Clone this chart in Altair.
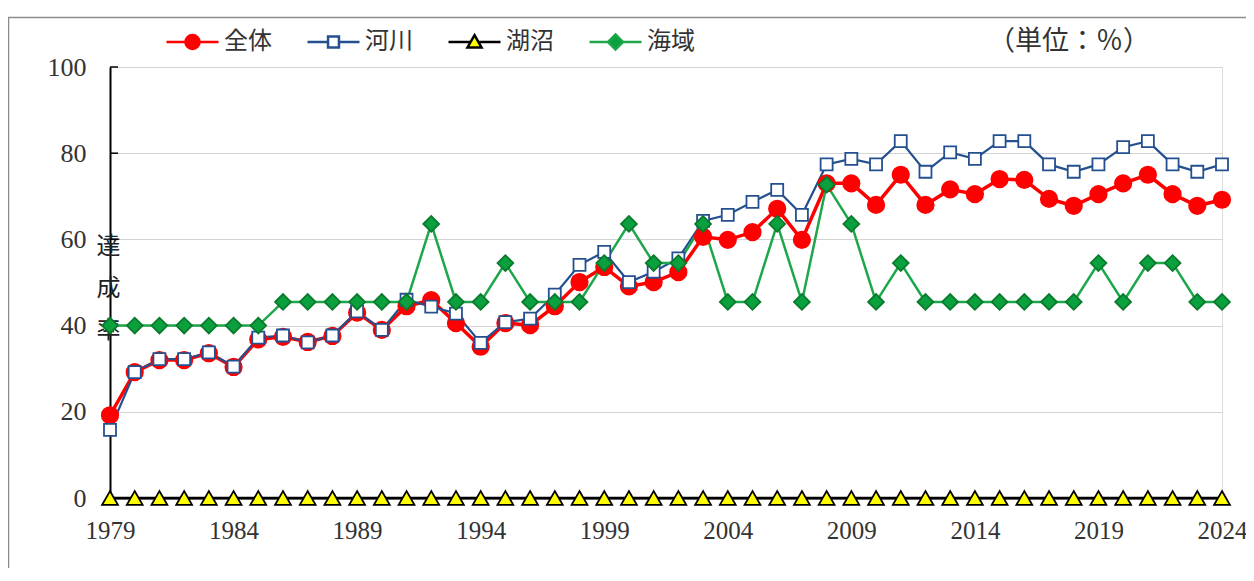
import json
import altair as alt
import pandas as pd

years = [1979, 1980, 1981, 1982, 1983, 1984, 1985, 1986, 1987, 1988,
         1989, 1990, 1991, 1992, 1993, 1994, 1995, 1996, 1997, 1998,
         1999, 2000, 2001, 2002, 2003, 2004, 2005, 2006, 2007, 2008,
         2009, 2010, 2011, 2012, 2013, 2014, 2015, 2016, 2017, 2018,
         2019, 2020, 2021, 2022, 2023, 2024]

series_names = ["全体", "河川", "湖沼", "海域"]

zentai = [19.2, 29.2, 32.0, 32.0, 33.6, 30.4, 36.8, 37.4, 36.2, 37.6,
          43.0, 39.0, 44.5, 45.9, 40.6, 35.1, 40.6, 40.1, 44.5, 50.1,
          53.6, 49.1, 50.1, 52.4, 60.6, 59.9, 61.7, 67.1, 59.9, 73.0,
          73.0, 68.0, 75.0, 68.0, 71.6, 70.5, 74.0, 73.8, 69.4, 67.8,
          70.5, 73.0, 75.0, 70.5, 67.8, 69.2]

kasen = [15.8, 29.2, 32.2, 32.2, 33.8, 30.5, 37.2, 37.7, 36.1, 37.7,
         43.3, 39.0, 46.0, 44.4, 42.8, 36.0, 40.8, 41.6, 47.2, 54.1,
         57.1, 50.1, 52.5, 55.6, 64.3, 65.7, 68.7, 71.5, 65.7, 77.4,
         78.7, 77.4, 82.8, 75.7, 80.2, 78.7, 82.8, 82.8, 77.4, 75.7,
         77.4, 81.4, 82.8, 77.4, 75.7, 77.4]

kosho = [0, 0, 0, 0, 0, 0, 0, 0, 0, 0,
         0, 0, 0, 0, 0, 0, 0, 0, 0, 0,
         0, 0, 0, 0, 0, 0, 0, 0, 0, 0,
         0, 0, 0, 0, 0, 0, 0, 0, 0, 0,
         0, 0, 0, 0, 0, 0]

kaiiki = [40.0, 40.0, 40.0, 40.0, 40.0, 40.0, 40.0, 45.5, 45.5, 45.5,
          45.5, 45.5, 45.5, 63.6, 45.5, 45.5, 54.5, 45.5, 45.5, 45.5,
          54.5, 63.6, 54.5, 54.5, 63.6, 45.5, 45.5, 63.6, 45.5, 72.7,
          63.6, 45.5, 54.5, 45.5, 45.5, 45.5, 45.5, 45.5, 45.5, 45.5,
          54.5, 45.5, 54.5, 54.5, 45.5, 45.5]

y_ticks = [0, 20, 40, 60, 80, 100]
x_ticks = [1979, 1984, 1989, 1994, 1999, 2004, 2009, 2014, 2019, 2024]
unit_text = "（単位：％）"
y_title = ["達", "成", "率"]

line_colors = ["#ff0000", "#24508f", "#000000", "#1ea64b"]
line_widths = [3.5, 2.2, 2.5, 2.5]
marker_fill = ["#ff0000", "#ffffff", "#ffff00", "#0aa03e"]
marker_stroke = ["#ff0000", "#24508f", "#000000", "#0b7a2c"]
marker_shape = ["circle", "square", "triangle-up", "diamond"]
marker_size = [270, 144, 250, 250]

# legend symbols: a short line with the marker in the middle (unit box [-1,1])
legend_stroke = ["#ff0000", "#24508f", "#000000", "#1ea64b"]
legend_fill = ["#ff0000", "#ffffff", "#ffff00", "#0aa03e"]
legend_paths = [
    "M-1,0H-0.26M0.26,0H1M0.27,0A0.27,0.27,0,1,1,-0.27,0A0.27,0.27,0,1,1,0.27,0Z",
    "M-1,0H-0.21M0.21,0H1M-0.21,-0.21H0.21V0.21H-0.21Z",
    "M-1,0H-0.16M0.16,0H1M0,-0.26L0.27,0.21L-0.27,0.21Z",
    "M-1,0H-0.29M0.29,0H1M0,-0.29L0.29,0L0,0.29L-0.29,0Z",
]

rows = []
for name, vals in zip(series_names, [zentai, kasen, kosho, kaiiki]):
    for yr, v in zip(years, vals):
        rows.append({"year": yr, "value": v, "series": name})
df = pd.DataFrame(rows)
tick_df = pd.DataFrame({"value": y_ticks})
one_df = pd.DataFrame({"a": [0]})

W, H = 1112, 431
LABEL_FONT = "Liberation Serif"
CJK = "Noto Sans CJK JP"

x_enc = alt.X(
    "year:Q",
    scale=alt.Scale(domain=[1979, 2024], nice=False, zero=False),
    axis=alt.Axis(values=x_ticks, format="d", title=None, grid=False, ticks=False,
                  labelFont=LABEL_FONT, labelFontSize=25, labelColor="#333333",
                  labelPadding=20, domainColor="#000000", domainWidth=2,
                  labelFlush=False, labelOverlap=False),
)
y_enc = alt.Y(
    "value:Q",
    scale=alt.Scale(domain=[0, 100], nice=False),
    axis=alt.Axis(values=y_ticks, title=y_title, titleAngle=0,
                  titleX=-2, titleY=167, titleAlign="center", titleBaseline="top",
                  titleLineHeight=42, titleFont=CJK, titleFontSize=24,
                  titleFontWeight="normal", titleColor="#222222",
                  grid=True, gridColor="#d4d4d4", gridWidth=1, ticks=False,
                  labelFont=LABEL_FONT, labelFontSize=26, labelColor="#333333",
                  labelPadding=24, domainColor="#000000", domainWidth=2,
                  labelFlush=False),
)

legend_main = alt.Legend(orient="none", direction="horizontal", title=None,
                         labelFont=CJK, labelFontSize=24, labelColor="#333333",
                         clipHeight=30, legendX=55, legendY=-40,
                         symbolSize=2704, symbolStrokeWidth=2.5, symbolOpacity=1,
                         labelOffset=4, columnPadding=34)

frame = alt.Chart(one_df).mark_rect(fillOpacity=0, stroke="#8c8c8c", strokeWidth=1.5).encode(
    x=alt.value(-101.5), y=alt.value(-49.5), x2=alt.value(1300), y2=alt.value(700)
)

unit = alt.Chart(one_df).mark_text(
    font=CJK, fontSize=27, color="#333333", align="right", baseline="middle"
).encode(x=alt.value(1040), y=alt.value(-25), text=alt.value(unit_text))

ticks = alt.Chart(tick_df).mark_rule(color="#000000", strokeWidth=1.5).encode(
    y=y_enc, x=alt.value(0), x2=alt.value(8)
)

lines = alt.Chart(df).mark_line().encode(
    x=x_enc, y=y_enc,
    color=alt.Color("series:N", scale=alt.Scale(domain=series_names, range=line_colors),
                    legend=None),
    strokeWidth=alt.StrokeWidth("series:N",
                                scale=alt.Scale(type="ordinal", domain=series_names, range=line_widths),
                                legend=None),
)

points = alt.Chart(df).mark_point(filled=True, opacity=1, strokeWidth=1.8).encode(
    x=x_enc, y=y_enc,
    shape=alt.Shape("series:N", scale=alt.Scale(domain=series_names, range=marker_shape),
                    legend=None),
    fill=alt.Fill("series:N", scale=alt.Scale(domain=series_names, range=marker_fill),
                  legend=None),
    stroke=alt.Stroke("series:N", scale=alt.Scale(domain=series_names, range=marker_stroke),
                      legend=None),
    size=alt.Size("series:N", scale=alt.Scale(type="ordinal", domain=series_names, range=marker_size),
                  legend=None),
)

# legend-only layer: no rows survive the filter, the legend is built from the scale domain
legend_layer = alt.Chart(df).transform_filter("false").mark_point(
    filled=True, opacity=1, size=2704, strokeWidth=2.5
).encode(
    x=x_enc, y=y_enc,
    shape=alt.Shape("series:N", scale=alt.Scale(domain=series_names, range=legend_paths),
                    legend=legend_main),
    fill=alt.Fill("series:N", scale=alt.Scale(domain=series_names, range=legend_fill),
                  legend=legend_main),
    stroke=alt.Stroke("series:N", scale=alt.Scale(domain=series_names, range=legend_stroke),
                      legend=legend_main),
)

chart = alt.layer(frame, unit, ticks, lines, points, legend_layer).resolve_scale(
    shape="independent", fill="independent", stroke="independent"
).properties(
    width=W, height=H,
    padding={"left": 102, "top": 59, "right": 24, "bottom": 70},
    autosize=alt.AutoSizeParams(type="none"),
).configure_view(
    stroke="#8a8a8a", strokeWidth=1.5
).configure(background="white")

chart.save("out.html", embed_options={"renderer": "svg", "actions": False})
